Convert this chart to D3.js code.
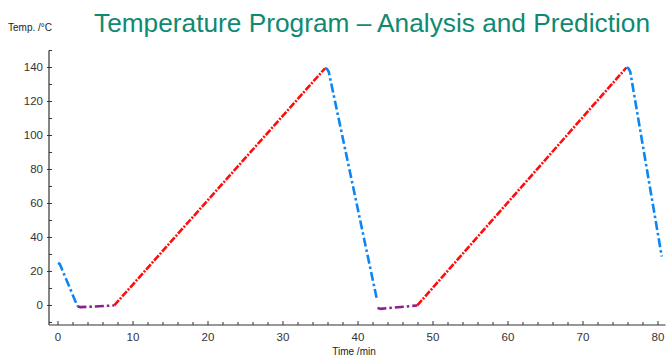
<!DOCTYPE html>
<html>
<head>
<meta charset="utf-8">
<script src="https://cdn.jsdelivr.net/npm/d3@7/dist/d3.min.js"></script>
<style>
  html, body { margin: 0; padding: 0; background: #fff; }
  svg { display: block; }
</style>
</head>
<body>
<svg id="chart" width="670" height="356"></svg>
<script>
// Temperature program: cooling (blue), hold (purple), heating ramp (red)
const cool1Time = [0, 0.25, 2.6];
const cool1Temp = [25, 24.3, -0.5];
const hold1Time = [2.6, 3.0, 7.5];
const hold1Temp = [-0.5, -1, 0];
const ramp1Time = [7.5, 35.6];
const ramp1Temp = [0, 139.5];
const cool2Time = [35.6, 35.85, 36.1, 42.5];
const cool2Temp = [139.5, 139.2, 137.5, 4];
const hold2Time = [42.6, 43.0, 47.9];
const hold2Temp = [-1.5, -2, 0];
const ramp2Time = [47.9, 75.8];
const ramp2Temp = [0, 140];
const cool3Time = [75.8, 76.05, 76.3, 80.5];
const cool3Temp = [140, 139.6, 137.5, 28.8];

const xTicks = [0, 10, 20, 30, 40, 50, 60, 70, 80];
const yTicks = [0, 20, 40, 60, 80, 100, 120, 140];

const segments = [
  { t: cool1Time, v: cool1Temp, kind: "cool" },
  { t: hold1Time, v: hold1Temp, kind: "hold" },
  { t: ramp1Time, v: ramp1Temp, kind: "ramp" },
  { t: cool2Time, v: cool2Temp, kind: "cool" },
  { t: hold2Time, v: hold2Temp, kind: "hold" },
  { t: ramp2Time, v: ramp2Temp, kind: "ramp" },
  { t: cool3Time, v: cool3Temp, kind: "cool" }
];

const styles = {
  cool: { color: "#0a86f5", dash: "9,3,2.5,3" },
  hold: { color: "#8d1f8d", dash: "9,3,2.5,3" },
  ramp: { color: "#ff0d0d", dash: "7,1.5,2,1.5" }
};

const svg = d3.select("#chart");
const x = d3.scaleLinear().domain([-1.2, 81]).range([49, 665.5]);
const y = d3.scaleLinear().domain([-11.5, 150]).range([325, 50.5]);

const font = "'Liberation Sans', Arial, sans-serif";

// Axes
const xAxis = svg.append("g").attr("transform", `translate(0,${y(-11.5)})`);
xAxis.append("line").attr("x1", x(-1.2)).attr("x2", x(81))
  .attr("stroke", "#333").attr("stroke-width", 1.2);
xAxis.selectAll("line.minor").data(d3.range(2, 81, 2).filter(d => d % 10 !== 0))
  .enter().append("line").attr("class", "minor")
  .attr("x1", d => x(d)).attr("x2", d => x(d)).attr("y1", 0).attr("y2", -3)
  .attr("stroke", "#333");
xAxis.selectAll("line.major").data(xTicks).enter().append("line").attr("class", "major")
  .attr("x1", d => x(d)).attr("x2", d => x(d)).attr("y1", 0).attr("y2", -4)
  .attr("stroke", "#333");
xAxis.selectAll("text").data(xTicks).enter().append("text")
  .attr("x", d => x(d)).attr("y", 16).attr("text-anchor", "middle")
  .attr("font-family", font).attr("font-size", 11.5).attr("fill", "#333")
  .text(d => d);

const yAxis = svg.append("g").attr("transform", `translate(${x(-1.2)},0)`);
yAxis.append("line").attr("y1", y(-11.5)).attr("y2", y(150))
  .attr("stroke", "#333").attr("stroke-width", 1.2);
yAxis.selectAll("line.minor").data(d3.range(-10, 151, 10).filter(d => d % 20 !== 0))
  .enter().append("line").attr("class", "minor")
  .attr("y1", d => y(d)).attr("y2", d => y(d)).attr("x1", 0).attr("x2", 3)
  .attr("stroke", "#333");
yAxis.selectAll("line.major").data(yTicks).enter().append("line").attr("class", "major")
  .attr("y1", d => y(d)).attr("y2", d => y(d)).attr("x1", -2).attr("x2", 3)
  .attr("stroke", "#333");
yAxis.selectAll("text").data(yTicks).enter().append("text")
  .attr("x", -6).attr("y", d => y(d) + 4).attr("text-anchor", "end")
  .attr("font-family", font).attr("font-size", 11.5).attr("fill", "#333")
  .text(d => d);

// Titles
svg.append("text").attr("x", 8).attr("y", 31)
  .attr("font-family", font).attr("font-size", 10).attr("fill", "#222")
  .text("Temp. /°C");
svg.append("text").attr("x", 372).attr("y", 32).attr("text-anchor", "middle")
  .attr("font-family", font).attr("font-size", 26).attr("fill", "#0f8a72")
  .attr("textLength", 556).attr("lengthAdjust", "spacingAndGlyphs")
  .text("Temperature Program – Analysis and Prediction");
svg.append("text").attr("x", 354).attr("y", 354.5).attr("text-anchor", "middle")
  .attr("font-family", font).attr("font-size", 10).attr("fill", "#222")
  .text("Time /min");

// Program segments
const line = d3.line().x(d => x(d[0])).y(d => y(d[1])).curve(d3.curveLinear);
svg.append("g").selectAll("path").data(segments).enter().append("path")
  .attr("d", s => line(s.t.map((t, i) => [t, s.v[i]])))
  .attr("fill", "none")
  .attr("stroke", s => styles[s.kind].color)
  .attr("stroke-width", 2.6)
  .attr("stroke-dasharray", s => styles[s.kind].dash)
  .attr("stroke-linejoin", "round")
  .attr("stroke-linecap", "butt");
</script>
</body>
</html>
